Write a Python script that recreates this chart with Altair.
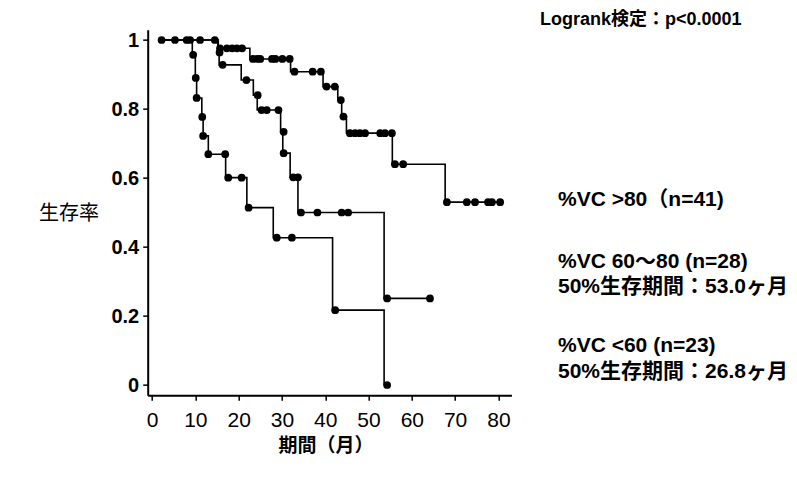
import altair as alt
import pandas as pd

# ---- step functions (time in months, survival after the step) ----
c1_t = [2, 15.2, 22.6, 32.0, 39.5, 42.9, 43.8, 44.9, 55.5, 67.7, 80.4]
c1_s = [1.0, 0.976, 0.945, 0.908, 0.865, 0.826, 0.778, 0.73, 0.64, 0.53, 0.53]

c2_t = [2, 15.3, 15.5, 20.6, 23.4, 24.3, 29.7, 30.2, 31.9, 33.7, 53.6, 64.2]
c2_s = [1.0, 0.964, 0.928, 0.884, 0.84, 0.797, 0.734, 0.672, 0.602, 0.50, 0.251, 0.251]

c3_t = [2, 9.3, 10.0, 10.3, 11.5, 11.8, 13.0, 17.0, 21.9, 28.0, 41.7, 53.6]
c3_s = [1.0, 0.957, 0.89, 0.832, 0.777, 0.722, 0.669, 0.601, 0.514, 0.427, 0.217, 0.0]

# ---- markers ----
c1_mt = [2.2, 5.3, 8.0, 8.8, 11.1, 14.5,
         15.7, 17.3, 18.5, 19.6, 20.8,
         23.3, 24.3, 25.0, 27.7, 28.5, 30.1, 31.8,
         32.9, 37.1, 39.0,
         40.3, 42.2,
         43.6, 44.2,
         45.7, 46.9, 48.0, 49.2, 52.7, 53.8, 55.4,
         56.1, 58.0,
         68.1, 72.7, 74.6, 77.6, 78.5, 80.4]
c1_ms = ([1.0] * 6 + [0.976] * 5 + [0.945] * 7 + [0.908] * 3 + [0.865] * 2
         + [0.826, 0.778] + [0.73] * 7 + [0.64] * 2 + [0.53] * 6)

c2_mt = [15.6, 16.3, 21.8, 24.4, 25.3, 26.5, 29.2, 30.4, 30.4, 32.6, 33.7,
         34.4, 38.2, 43.8, 45.3, 54.3, 64.2]
c2_ms = [0.964, 0.928, 0.884, 0.84, 0.797, 0.797, 0.797, 0.734, 0.672, 0.602, 0.602,
         0.50, 0.50, 0.50, 0.50, 0.251, 0.251]

c3_mt = [9.5, 10.1, 10.3, 11.6, 11.8, 13.0, 16.9, 17.6, 20.7, 22.3, 28.8, 32.3, 42.3, 54.3]
c3_ms = [0.957, 0.89, 0.832, 0.777, 0.722, 0.669, 0.669, 0.601, 0.601, 0.514, 0.427,
         0.427, 0.217, 0.0]

x_ticks = [0, 10, 20, 30, 40, 50, 60, 70, 80]
y_ticks = [0, 0.2, 0.4, 0.6, 0.8, 1]

title_top = "Logrank検定：p<0.0001"
legend_lines = ["%VC >80（n=41)", "%VC 60～80 (n=28)", "50%生存期間：53.0ヶ月",
                "%VC <60 (n=23)", "50%生存期間：26.8ヶ月"]
y_title = "生存率"
x_title = "期間（月）"

lines_df = pd.concat([
    pd.DataFrame({"t": c1_t, "s": c1_s, "g": "c1"}),
    pd.DataFrame({"t": c2_t, "s": c2_s, "g": "c2"}),
    pd.DataFrame({"t": c3_t, "s": c3_s, "g": "c3"}),
])
pts_df = pd.concat([
    pd.DataFrame({"t": c1_mt, "s": c1_ms, "g": "c1"}),
    pd.DataFrame({"t": c2_mt, "s": c2_ms, "g": "c2"}),
    pd.DataFrame({"t": c3_mt, "s": c3_ms, "g": "c3"}),
])

FONT = "Liberation Sans, Arial, Noto Sans CJK JP, sans-serif"
PL, PT = 147.7, 29.65
W, H = 363.7, 365.7

xenc = alt.X("t:Q", scale=alt.Scale(domain=[-1, 83], nice=False, zero=False),
             axis=alt.Axis(values=x_ticks, title=None, labelFontSize=21,
                           labelFont=FONT, labelFontWeight="normal", labelPadding=9))
yenc = alt.Y("s:Q", scale=alt.Scale(domain=[-0.03, 1.03], nice=False, zero=False),
             axis=alt.Axis(values=y_ticks, title=None, format=".1~f", labelFontSize=20,
                           labelFont=FONT, labelFontWeight="bold", labelPadding=4))

lines = alt.Chart(lines_df).mark_line(
    interpolate="step-after", color="black", strokeWidth=1.6
).encode(x=xenc, y=yenc, detail="g:N")

pts = alt.Chart(pts_df).mark_circle(size=60, color="black", opacity=1).encode(
    x="t:Q", y="s:Q"
)

layers = [lines, pts]


def txt(s, ax, ay, size=18, weight="bold", align="left"):
    return alt.Chart(pd.DataFrame({"v": [s]})).mark_text(
        align=align, baseline="middle", fontSize=size, fontWeight=weight,
        font=FONT, color="black"
    ).encode(x=alt.value(ax - PL), y=alt.value(ay - PT), text="v:N")


layers.append(txt(title_top, 540, 20))
for s, yy in zip(legend_lines, [200, 262, 287, 346, 372]):
    layers.append(txt(s, 558, yy, size=21))
layers.append(txt(y_title, 69, 214, size=20, weight="normal", align="center"))
layers.append(txt(x_title, 326, 446, size=19, align="center"))

chart = alt.layer(*layers).properties(
    width=W, height=H,
    autosize=alt.AutoSizeParams(type="none"),
    padding={"left": PL, "top": PT, "right": 797 - PL - W, "bottom": 477 - PT - H},
).configure_view(stroke=None).configure_axis(
    grid=False, domainColor="black", domainWidth=2, tickColor="black",
    tickWidth=1.5, tickSize=5, labelColor="black"
)

chart.save("out.html", embed_options={"renderer": "svg", "actions": False})
